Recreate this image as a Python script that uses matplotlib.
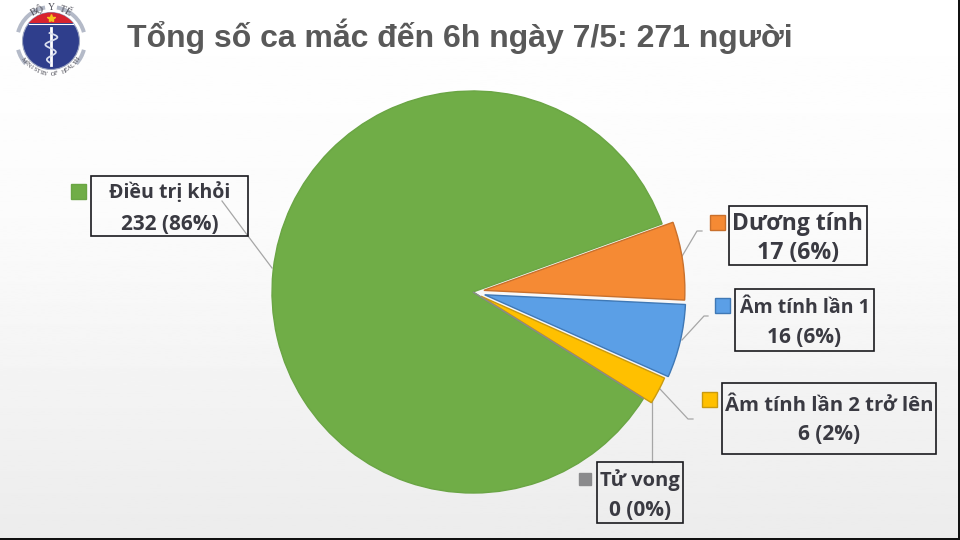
import numpy as np
import matplotlib
matplotlib.use("Agg")
import matplotlib.pyplot as plt
from matplotlib.patches import Circle, Rectangle, Wedge

H = 540

categories = ["Điều trị khỏi", "Dương tính", "Âm tính lần 1", "Âm tính lần 2 trở lên", "Tử vong"]
cases = [232, 17, 16, 6, 0]
percents = [86, 6, 6, 2, 0]
title = "Tổng số ca mắc đến 6h ngày 7/5: 271 người"

colors = ["#70AD47", "#F58A34", "#5B9FE6", "#FFC000", "#8A8A8C"]
edges = ["#6AA544", "#C9702C", "#3F78B5", "#C99A10", "#8A8A8C"]
explode = [0, 11, 12, 9, 0]  # pixels

# label layout in pixels: left, top, right, bottom
boxes = [(91, 176, 248, 236), (729, 206, 867, 265), (735, 289, 874, 351),
         (722, 383, 936, 454), (597, 462, 683, 523)]
keys = [(71, 184, 15), (710, 215, 15), (715, 298, 15), (702, 392, 15), (579, 473, 12)]
first_size = [14, 16.5, 14, 14.6, 14.5]
second_size = [15, 16.7, 15, 15, 15]
first_y = [193, 224, 308, 406, 480.5]
second_y = [224, 253, 337.5, 434, 510]
leaders = [[(272, 268), (248, 236), (222, 201)],
           [(681, 258), (697, 231), (702, 231)],
           [(682, 340), (704, 316), (708, 316)],
           [(660, 389), (688, 419), (693, 419)],
           [(652, 400), (652, 462)]]

fig = plt.figure(figsize=(9.6, 5.4), dpi=100)
ax = fig.add_axes([0, 0, 1, 1])

# slide background, white at top going grey near the bottom
shade = np.interp(np.linspace(0, 1, 256), [0, 0.4, 1], [1.0, 0.985, 0.925]).reshape(-1, 1)
ax.imshow(shade, extent=[0, 960, 0, H], cmap="gray", vmin=0, vmax=1, aspect="auto", zorder=0)

wedges, _ = ax.pie(cases, colors=colors, explode=explode, startangle=-32, counterclock=False,
                   center=(473, H - 292), radius=201, frame=True,
                   wedgeprops={"linewidth": 1.0})
for w, e in zip(wedges, edges):
    w.set_edgecolor(e)
    w.set_zorder(2)

for pts in leaders:
    xs = [p[0] for p in pts]
    ys = [H - p[1] for p in pts]
    ax.plot(xs, ys, color="#A6A6A6", lw=0.9, zorder=1.5)

for i, name in enumerate(categories):
    x0, y0, x1, y1 = boxes[i]
    ax.add_patch(Rectangle((x0, H - y1), x1 - x0, y1 - y0, fc="none", ec="#1A1A1E", lw=1.2, zorder=3))
    cx = (x0 + x1) / 2
    ax.text(cx, H - first_y[i], name, ha="center", va="center", family="Open Sans",
            fontweight="bold", fontsize=first_size[i], color="#3A3A42", zorder=4)
    ax.text(cx, H - second_y[i], f"{cases[i]} ({percents[i]}%)", ha="center", va="center",
            family="Open Sans", fontweight="bold", fontsize=second_size[i], color="#3A3A42", zorder=4)
    kx, ky, ks = keys[i]
    ax.add_patch(Rectangle((kx, H - ky - ks), ks, ks, fc=colors[i], ec=edges[i], lw=1.0, zorder=3))

ax.text(460, H - 36, title, ha="center", va="center", family="Liberation Sans",
        fontweight="bold", fontsize=23, color="#595959")

# ministry logo
lx, ly = 51, H - 41
for a0, a1 in [(100, 165), (15, 80), (195, 222), (318, 345)]:
    ax.add_patch(Wedge((lx, ly), 36, a0, a1, width=4, fc="#B4BAC8", ec="none", zorder=3))
ax.add_patch(Circle((lx, ly), 28.5, fc="#2F3E8C", ec="#9AA3C0", lw=0.8, zorder=3))
cap = Rectangle((lx - 29, ly + 18), 58, 12, fc="#D8232E", ec="none", zorder=3.1)
ax.add_patch(cap)
cap.set_clip_path(Circle((lx, ly), 28.5, transform=ax.transData))
ax.plot([lx - 22, lx + 22], [ly + 17, ly + 17], color="white", lw=0.8, zorder=3.2)
ax.plot([lx], [ly + 23], marker="*", ms=6, color="#F5C21B", zorder=3.3)
ax.plot([lx, lx], [ly + 13, ly - 24], color="white", lw=2, zorder=3.3)
yy = np.linspace(ly + 8, ly - 22, 80)
ax.plot(lx + 6 * np.sin((yy - ly) * 0.42) * (1 - (ly - yy) / 60), yy, color="#D9DEEE", lw=1.3, zorder=3.4)

def arc_text(s, radius, start, stop, size, color):
    # one letter at a time along the ring
    for ch, a in zip(s, np.linspace(start, stop, len(s))):
        t = np.radians(a)
        rot = a - 90 if np.sin(t) > 0 else a + 90
        ax.text(lx + radius * np.cos(t), ly + radius * np.sin(t), ch, rotation=rot, ha="center",
                va="center", fontsize=size, family="Liberation Serif", color=color, zorder=4)

arc_text("BỘ Y TẾ", 33, 120, 60, 7, "#4A4A55")
arc_text("MINISTRY OF HEALTH", 33, 215, 325, 4.2, "#3A3A45")

# dark screen edge
ax.add_patch(Rectangle((0, 0), 960, 2.5, fc="#111111", ec="none", zorder=5))
ax.add_patch(Rectangle((958, 0), 2, H, fc="#111111", ec="none", zorder=5))

ax.set_xlim(0, 960)
ax.set_ylim(0, H)
ax.set_aspect("auto")
ax.axis("off")

fig.savefig("out.png", dpi=100)
